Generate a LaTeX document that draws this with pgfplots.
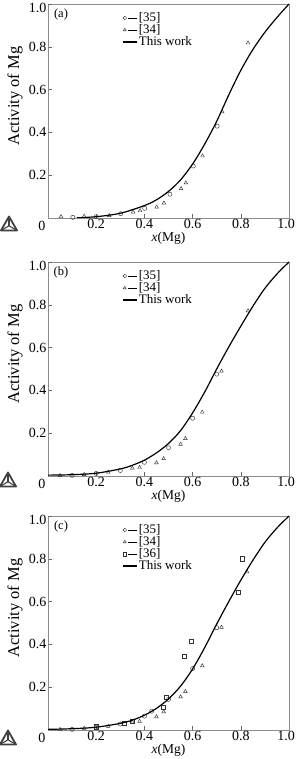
\documentclass[border=0pt]{standalone}
\usepackage{fontspec}
\setmainfont{Liberation Serif}
\usepackage{pgfplots}
\pgfplotsset{compat=1.18}

\pgfplotstableread{
x y
0.12 0.001
0.2 0.006
0.3 0.022
0.4 0.058
0.45 0.085
0.5 0.124
0.55 0.178
0.6 0.252
0.65 0.345
0.7 0.452
0.75 0.575
0.8 0.69
0.85 0.787
0.9 0.868
0.95 0.937
1.0 1.0
}\curveA
\pgfplotstableread{
x y
0 0.004
0.1 0.006
0.2 0.013
0.3 0.033
0.35 0.05
0.4 0.074
0.45 0.108
0.5 0.152
0.55 0.212
0.6 0.295
0.65 0.392
0.7 0.50
0.75 0.603
0.8 0.700
0.85 0.793
0.9 0.877
0.95 0.944
1.0 1.0
}\curveB
\pgfplotstableread{
x y
0 0.003
0.1 0.006
0.2 0.013
0.3 0.031
0.35 0.046
0.4 0.069
0.45 0.101
0.5 0.145
0.55 0.205
0.6 0.285
0.65 0.385
0.7 0.495
0.75 0.60
0.8 0.70
0.85 0.793
0.9 0.877
0.95 0.944
1.0 1.0
}\curveC

\pgfplotsset{
 panel/.style={
  scale only axis, width=241pt, height=214pt, anchor=south west,
  clip mode=individual,
  xmin=0, xmax=1, ymin=0, ymax=1,
  xtick={0.2,0.4,0.6,0.8,1.0}, xticklabels={0.2,0.4,0.6,0.8,\kern-6pt1.0},
  ytick={0.2,0.4,0.6,0.8}, yticklabels={0.2,0.4,0.6,0.8},
  extra y ticks={1.0}, extra y tick labels={1.0},
  extra y tick style={yticklabel style={yshift=-3.5pt}},
  tick align=inside, xtick pos=bottom, ytick pos=left,
  axis line style={black!45, line width=0.6pt},
  tick style={black!60, line width=0.5pt, major tick length=4pt},
  ticklabel style={font=\fontsize{14}{14}\selectfont},
  xticklabel style={inner sep=0.5pt},
  yticklabel style={inner sep=1.5pt},
  xlabel={\textit{x}(Mg)}, ylabel={Activity of Mg},
  xlabel style={font=\fontsize{13.5}{14}\selectfont, at={(axis description cs:0.5,-0.094)}, anchor=center},
  ylabel style={font=\fontsize{16.5}{17}\selectfont, at={(axis description cs:-0.137,0.57)}, anchor=center},
  legend style={draw=none, fill=none, font=\fontsize{13}{13}\selectfont,
    at={(axis description cs:0.307,0.96)}, anchor=north west,
    row sep=1.5pt, column sep=1pt, inner sep=0pt, nodes={inner sep=0pt}},
  legend cell align=left,
 },
 dat/.style={only marks, mark size=2.1pt,
   mark options={draw=black!80, line width=0.45pt, fill=none},
   legend image code/.code={
     \draw[##1, mark size=1.8pt, mark repeat=2, mark phase=2] plot coordinates {(0pt,0pt) (2pt,0pt) (4pt,0pt)};
     \draw[black, solid, line width=0.5pt] (5.5pt,0pt) -- (14.5pt,0pt);}},
 model/.style={black, line width=1.2pt, smooth, tension=0.5, mark=none,
   legend image code/.code={\draw[black, line width=1.2pt] (0pt,0pt) -- (14.5pt,0pt);}},
}

\newcommand{\tclogo}[2]{%
  \begin{scope}[shift={(#1,#2)}]
    \draw[black!75, line width=1.8pt, line join=round] (-8pt,-6.5pt) -- (8pt,-6.5pt) -- (0pt,7.5pt) -- cycle;
    \draw[black!75, line width=1.1pt] (-8pt,-6.5pt) -- (0pt,-1.8pt) -- (8pt,-6.5pt);
    \draw[black!75, line width=1.1pt] (0pt,-1.8pt) -- (0pt,7.5pt);
  \end{scope}}

\begin{document}
\begin{tikzpicture}
\useasboundingbox (0,0) rectangle (296pt,759pt);

% ---------------- panel (a)
\begin{axis}[panel, at={(48pt,541pt)}]
\addplot[dat, mark=o] coordinates {
(0.103,0.003) (0.2,0.006) (0.302,0.02) (0.401,0.045) (0.506,0.111) (0.603,0.243) (0.702,0.429)};
\addlegendentry{[35]}
\addplot[dat, mark=triangle] coordinates {
(0.054,0.006) (0.15,0.008) (0.254,0.011) (0.353,0.028) (0.382,0.034) (0.451,0.051)
(0.481,0.07) (0.552,0.137) (0.572,0.164) (0.641,0.29) (0.723,0.496) (0.83,0.818)};
\addlegendentry{[34]}
\addplot[model] table {\curveA};
\addlegendentry{This work}
\node[font=\fontsize{12.5}{13}\selectfont] at (rel axis cs:0.054,0.95) {(a)};
\node[font=\fontsize{14}{14}\selectfont] at (rel axis cs:0,0) [xshift=-6pt, yshift=-7.5pt] {0};
\end{axis}
\tclogo{9pt}{535pt}

% ---------------- panel (b)
\begin{axis}[panel, at={(48pt,283pt)}]
\addplot[dat, mark=o] coordinates {
(0.10,0.003) (0.20,0.012) (0.30,0.026) (0.40,0.064) (0.50,0.132) (0.60,0.27) (0.70,0.476)};
\addlegendentry{[35]}
\addplot[dat, mark=triangle] coordinates {
(0.05,0.002) (0.15,0.007) (0.25,0.018) (0.35,0.037) (0.38,0.04) (0.45,0.062)
(0.48,0.081) (0.55,0.148) (0.57,0.175) (0.64,0.298) (0.72,0.49) (0.83,0.772)};
\addlegendentry{[34]}
\addplot[model] table {\curveB};
\addlegendentry{This work}
\node[font=\fontsize{12.5}{13}\selectfont] at (rel axis cs:0.054,0.95) {(b)};
\node[font=\fontsize{14}{14}\selectfont] at (rel axis cs:0,0) [xshift=-6pt, yshift=-7.5pt] {0};
\end{axis}
\tclogo{8pt}{279pt}

% ---------------- panel (c)
\begin{axis}[panel, at={(48pt,29pt)}]
\addplot[dat, mark=o] coordinates {
(0.10,0.003) (0.20,0.013) (0.30,0.028) (0.40,0.065) (0.43,0.088) (0.50,0.143) (0.60,0.287) (0.70,0.478)};
\addlegendentry{[35]}
\addplot[dat, mark=triangle] coordinates {
(0.05,0.003) (0.15,0.008) (0.25,0.017) (0.35,0.036) (0.38,0.041) (0.45,0.062)
(0.48,0.085) (0.55,0.155) (0.57,0.18) (0.64,0.30) (0.72,0.48) (0.826,0.739)};
\addlegendentry{[34]}
\addplot[dat, mark=square] coordinates {
(0.20,0.015) (0.316,0.031) (0.35,0.042) (0.479,0.106) (0.492,0.152) (0.566,0.343)
(0.593,0.413) (0.79,0.645) (0.807,0.80)};
\addlegendentry{[36]}
\addplot[model] table {\curveC};
\addlegendentry{This work}
\node[font=\fontsize{12.5}{13}\selectfont] at (rel axis cs:0.054,0.95) {(c)};
\node[font=\fontsize{14}{14}\selectfont] at (rel axis cs:0,0) [xshift=-6pt, yshift=-7.5pt] {0};
\end{axis}
\tclogo{8pt}{21pt}
\end{tikzpicture}
\end{document}
